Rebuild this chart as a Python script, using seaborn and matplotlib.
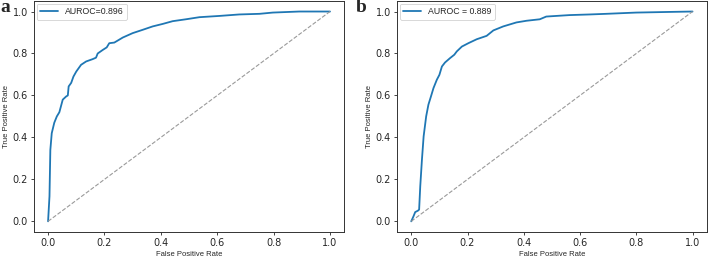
import numpy as np
import pandas as pd
import matplotlib
matplotlib.use("Agg")
import matplotlib.pyplot as plt
import seaborn as sns

# ROC curve a
fpr_a = [0.0, 0.005, 0.008, 0.013, 0.022, 0.031, 0.040, 0.046, 0.052, 0.064, 0.070,
         0.073, 0.082, 0.090, 0.100, 0.117, 0.135, 0.158, 0.170, 0.176, 0.194, 0.208,
         0.217, 0.235, 0.265, 0.300, 0.336, 0.371, 0.407, 0.442, 0.489, 0.537, 0.608,
         0.678, 0.750, 0.797, 0.891, 1.0]
tpr_a = [0.0, 0.12, 0.34, 0.42, 0.47, 0.50, 0.52, 0.55, 0.58, 0.595, 0.60,
         0.643, 0.66, 0.69, 0.714, 0.746, 0.762, 0.773, 0.78, 0.80, 0.817, 0.829,
         0.849, 0.852, 0.876, 0.897, 0.913, 0.929, 0.941, 0.954, 0.963, 0.973, 0.979,
         0.986, 0.989, 0.995, 1.0, 1.0]

# ROC curve b
fpr_b = [0.0, 0.008, 0.014, 0.024, 0.028, 0.032, 0.038, 0.044, 0.053, 0.061, 0.070,
         0.079, 0.091, 0.100, 0.109, 0.120, 0.138, 0.153, 0.162, 0.180, 0.203, 0.233,
         0.268, 0.292, 0.327, 0.374, 0.410, 0.457, 0.480, 0.563, 0.634, 0.693, 0.800,
         0.917, 1.0]
tpr_b = [0.0, 0.024, 0.044, 0.051, 0.056, 0.167, 0.294, 0.405, 0.50, 0.556, 0.595,
         0.635, 0.675, 0.698, 0.738, 0.757, 0.778, 0.794, 0.81, 0.833, 0.849, 0.868,
         0.884, 0.91, 0.929, 0.948, 0.956, 0.963, 0.976, 0.983, 0.986, 0.989, 0.995,
         0.998, 1.0]

labels = ["AUROC=0.896", "AUROC = 0.889"]
panels = ["a", "b"]
chance = [0.0, 1.0]

sns.set_style("ticks")
plt.rcParams["font.family"] = ["DejaVu Sans"]

fig = plt.figure(figsize=(7.08, 2.57), dpi=100)
ax_a = fig.add_axes([0.048, 0.098, 0.438, 0.898])
ax_b = fig.add_axes([0.561, 0.098, 0.437, 0.898])

curves = [(fpr_a, tpr_a), (fpr_b, tpr_b)]
for ax, (fpr, tpr), lab in zip([ax_a, ax_b], curves, labels):
    df = pd.DataFrame({"fpr": fpr, "tpr": tpr})
    sns.lineplot(data=df, x="fpr", y="tpr", ax=ax, color="#1f77b4",
                 linewidth=1.3, label=lab, sort=False, estimator=None)
    ax.plot(chance, chance, linestyle="--", color="#9a9a9a", linewidth=0.8)
    ax.set_xlim(-0.05, 1.05)
    ax.set_ylim(-0.05, 1.05)
    ax.set_xticks(np.arange(0, 1.01, 0.2))
    ax.set_yticks(np.arange(0, 1.01, 0.2))
    ax.tick_params(labelsize=7, length=2.5, width=0.6, pad=2)
    for s in ax.spines.values():
        s.set_linewidth(0.7)
        s.set_color("#333333")
    ax.set_xlabel("False Positive Rate", fontsize=5.5, family="Liberation Sans", labelpad=2)
    ax.set_ylabel("True Positive Rate", fontsize=5.5, family="Liberation Sans", labelpad=2)
    leg = ax.legend(loc="upper left", prop={"family": "Liberation Sans", "size": 6.3},
                    handlelength=2.0, borderaxespad=0.3, borderpad=0.4)
    leg.get_frame().set_linewidth(0.5)
    leg.get_frame().set_edgecolor("#bbbbbb")

fig.text(0.0, 0.955, panels[0], fontsize=14, fontweight="bold", family="Liberation Serif")
fig.text(0.503, 0.955, panels[1], fontsize=14, fontweight="bold", family="Liberation Serif")

fig.savefig("out.png", dpi=100)
